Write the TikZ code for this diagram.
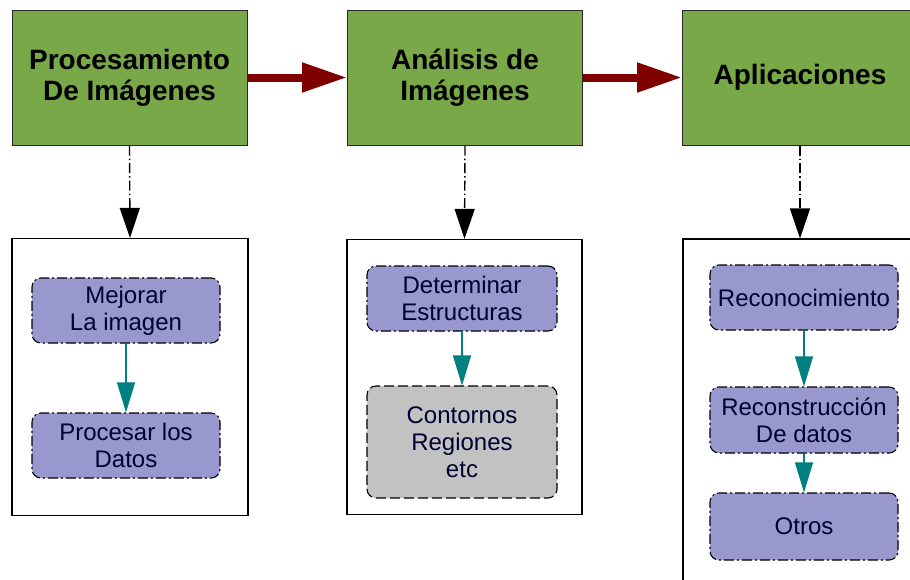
\documentclass[tikz,border=0pt]{standalone}
\usepackage{fontspec}
\setmainfont{Liberation Sans}
\usetikzlibrary{arrows.meta,positioning}

\definecolor{verdeEtapa}{RGB}{120,168,72}
\definecolor{lilaTarea}{RGB}{152,152,206}
\definecolor{grisTarea}{RGB}{194,194,194}
\definecolor{rojoFlecha}{RGB}{128,0,0}
\definecolor{tealFlecha}{RGB}{0,128,128}

\tikzset{
	etapa/.style={draw=black!85, line width=1pt, fill=verdeEtapa, minimum width=235pt, minimum height=135pt, align=center, font=\fontsize{28}{31}\selectfont\bfseries},
	grupo/.style={draw, line width=1.2pt, fill=white},
	tarea/.style={draw, line width=1.1pt, fill=lilaTarea, rounded corners=9pt, dash pattern=on 10pt off 3pt on 2pt off 3pt, minimum width=188pt, minimum height=65pt, inner sep=0pt, align=center, text=black!80!blue, font=\fontsize{24}{27}\selectfont},
	pasa/.style={draw=rojoFlecha, line width=8pt, -{Triangle[length=45pt,width=28pt]}},
	baja/.style={line width=1.4pt, dash pattern=on 10pt off 3pt on 1.5pt off 3pt, -{Triangle[length=30pt,width=20pt]}},
	sigue/.style={draw=tealFlecha, fill=tealFlecha, line width=1.3pt, -{Triangle[length=30pt,width=18pt]}}
}

\begin{document}
\begin{tikzpicture}[x=1pt, y=-1pt]
	\useasboundingbox (0,0) rectangle (910,579);

	% etapas
	\node[etapa] (proc) at (129.5,77.5) {Procesamiento\\De Imágenes};
	\node[etapa] (anal) at (465,77.5) {Análisis de\\Imágenes};
	\node[etapa] (apli) at (800,77.5) {Aplicaciones};

	% cajas de cada etapa
	\node[grupo, minimum width=236pt, minimum height=277pt] (gproc) at (130,377) {};
	\node[grupo, minimum width=235pt, minimum height=275pt] (ganal) at (464.5,377) {};
	\node[grupo, minimum width=234pt, minimum height=360pt] (gapli) at (800,419) {};

	\node[tarea] (mejorar) at (126,310.5) {Mejorar\\La imagen};
	\node[tarea] (procesar) at (126,445.5) {Procesar los\\Datos};

	\node[tarea, minimum width=190pt] (determinar) at (462,298.5) {Determinar\\Estructuras};
	\node[tarea, fill=grisTarea, minimum width=190pt, minimum height=112pt, dash pattern=on 10pt off 4pt] (contornos) at (462,442) {Contornos\\Regiones\\etc};

	\node[tarea] (reconocer) at (804,297.5) {Reconocimiento};
	\node[tarea, minimum height=66pt] (reconstruir) at (804,420) {Reconstrucción\\De datos};
	\node[tarea, minimum height=67pt] (otros) at (804,526.5) {Otros};

	% flechas
	\draw[pasa] (proc) -- (anal);
	\draw[pasa] (anal) -- (apli);

	\draw[baja] (proc.south) -- (gproc.north);
	\draw[baja] (anal.south) -- (ganal.north);
	\draw[baja] (apli.south) -- (gapli.north);

	\draw[sigue] (mejorar) -- (procesar);
	\draw[sigue] (determinar) -- (contornos);
	\draw[sigue] (reconocer) -- (reconstruir);
	\draw[sigue] (reconstruir) -- (otros);
\end{tikzpicture}
\end{document}
